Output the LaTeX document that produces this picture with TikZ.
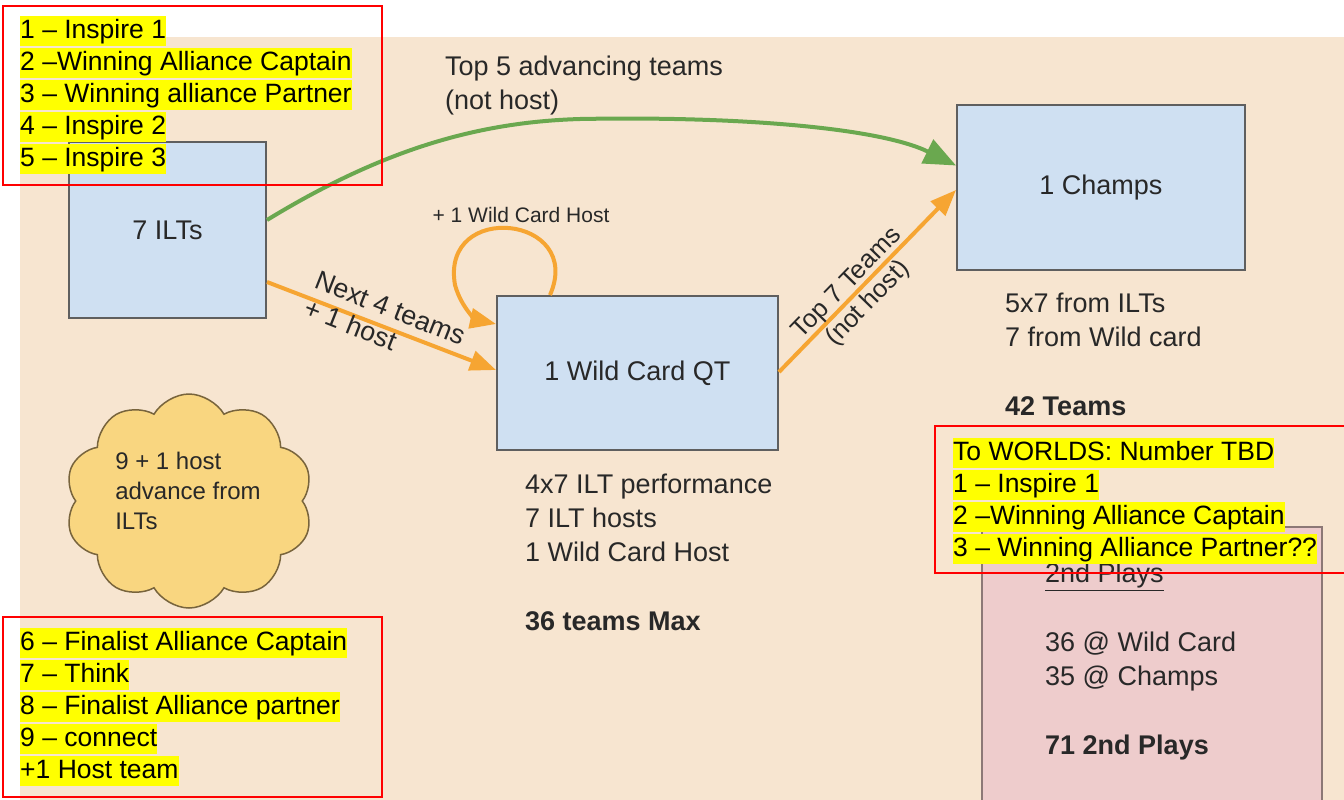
\documentclass[tikz,border=0pt]{standalone}
\usepackage{fontspec}
\setmainfont{Liberation Sans}
\usetikzlibrary{arrows.meta,shapes.symbols,positioning}

\definecolor{bgbeige}{RGB}{247,229,208}
\definecolor{boxblue}{RGB}{207,224,242}
\definecolor{boxline}{RGB}{95,95,95}
\definecolor{playpink}{RGB}{238,204,204}
\definecolor{playline}{RGB}{140,120,118}
\definecolor{cloudfill}{RGB}{249,214,128}
\definecolor{cloudline}{RGB}{120,100,60}
\definecolor{flowgreen}{RGB}{106,168,79}
\definecolor{flowor}{RGB}{246,165,50}
\definecolor{hlyellow}{RGB}{255,255,0}
\definecolor{txtdark}{RGB}{40,40,40}

\tikzset{
  box/.style={draw=boxline, fill=boxblue, line width=2pt, inner sep=0pt,
    text=txtdark, font=\fontsize{27}{34}\selectfont},
  hl/.style={fill=hlyellow, anchor=north west, inner xsep=0pt, inner ysep=2pt,
    text height=20pt, text depth=6pt, font=\fontsize{26.5}{30}\selectfont},
  redbox/.style={draw=red, line width=2pt},
  note/.style={anchor=west, align=left, inner sep=0pt, text=txtdark,
    font=\fontsize{27}{34}\selectfont},
  flow/.style={draw=flowor, line width=4pt, -{Triangle[length=26pt,width=20pt]}},
  advance/.style={draw=flowgreen, line width=4pt, -{Triangle[length=32pt,width=26pt]}}
}

\begin{document}
\begin{tikzpicture}[x=1pt,y=-1pt]
\clip (0,0) rectangle (1344,800);
\fill[white] (0,0) rectangle (1344,800);
\fill[bgbeige] (20,37) rectangle (1344,800);

\node[box, minimum width=197pt, minimum height=176pt] (ilts) at (167.5,230) {7 ILTs};
\node[box, minimum width=281pt, minimum height=154pt] (wcqt) at (637.5,373) {1 Wild Card QT};
\node[box, minimum width=288pt, minimum height=165pt] (champs) at (1101,187.5) {1 Champs};
\node[draw=playline, fill=playpink, line width=2pt, minimum width=340pt,
  minimum height=293pt] (plays) at (1152,673.5) {};

\node[cloud, cloud puffs=10, cloud puff arc=120, aspect=1.15, draw=cloudline,
  fill=cloudfill, line width=1.5pt, minimum width=248pt, minimum height=214pt] (cloud) at (189,501) {};
\node[note, anchor=center, font=\fontsize{24}{30}\selectfont] (cloudtxt) at (188,491)
  {9 + 1 host\\advance from\\ILTs};

\draw[advance] ([yshift=10pt]ilts.east) .. controls (385,148) and (480,122) .. (580,119)
  .. controls (740,116) and (880,128) .. ([yshift=22pt]champs.west);
\draw[flow] ([yshift=-52pt]ilts.east) -- ([yshift=3pt]wcqt.west);
\draw[flow] ([yshift=1pt]wcqt.east) -- ([yshift=-2.5pt]champs.west);
\draw[flow] ([xshift=54pt]wcqt.north west) .. controls (585,215) and (440,200) .. (455,285)
  .. controls (462,310) and (478,320) .. ([yshift=-29pt]wcqt.north west);

\node[note] (top5) at (445,86) {Top 5 advancing teams\\(not host)};
\node[note, anchor=center, font=\fontsize{21}{26}\selectfont] (hostlbl) at (521,215) {+ 1 Wild Card Host};
\node[note, anchor=center, rotate=-21.5, font=\fontsize{27}{30}\selectfont] (nextlbl) at (385,322)
  {Next 4 teams\\+ 1 host};
\node[note, anchor=center, align=center, rotate=45.8, font=\fontsize{25.5}{29}\selectfont] (top7) at (858,294)
  {Top 7 Teams\\(not host)};

\node[note] (champsrc) at (1005,319.5) {5x7 from ILTs\\7 from Wild card};
\node[note, font=\fontsize{27}{34}\bfseries] (champtot) at (1005,406) {42 Teams};
\node[note] (wcsrc) at (525,518) {4x7 ILT performance\\7 ILT hosts\\1 Wild Card Host};
\node[note, font=\fontsize{27}{34}\bfseries] (wctot) at (525,621) {36 teams Max};

\node[note] (playhead) at (1045,577) {\underline{2nd Plays}};
\node[note] (playsrc) at (1045,661.5) {36 @ Wild Card\\35 @ Champs};
\node[note, font=\fontsize{27}{34}\bfseries] (playtot) at (1045,748) {71 2nd Plays};

\draw[redbox] (3,6) rectangle (382,185);
\draw[redbox] (3,617) rectangle (382,797);
\draw[redbox] (935,426) rectangle (1350,573);

\node[hl] (ta1) at (20,16) {1 – Inspire 1};
\node[hl] (ta2) at (20,48) {2 –Winning Alliance Captain};
\node[hl] (ta3) at (20,80) {3 – Winning alliance Partner};
\node[hl] (ta4) at (20,112) {4 – Inspire 2};
\node[hl] (ta5) at (20,144) {5 – Inspire 3};

\node[hl] (tb1) at (20,628) {6 – Finalist Alliance Captain};
\node[hl] (tb2) at (20,660) {7 – Think};
\node[hl] (tb3) at (20,692) {8 – Finalist Alliance partner};
\node[hl] (tb4) at (20,724) {9 – connect};
\node[hl] (tb5) at (20,756) {+1 Host team};

\node[hl] (tw1) at (953,438) {To WORLDS: Number TBD};
\node[hl] (tw2) at (953,470) {1 – Inspire 1};
\node[hl] (tw3) at (953,502) {2 –Winning Alliance Captain};
\node[hl] (tw4) at (953,534) {3 – Winning Alliance Partner??};
\end{tikzpicture}
\end{document}
